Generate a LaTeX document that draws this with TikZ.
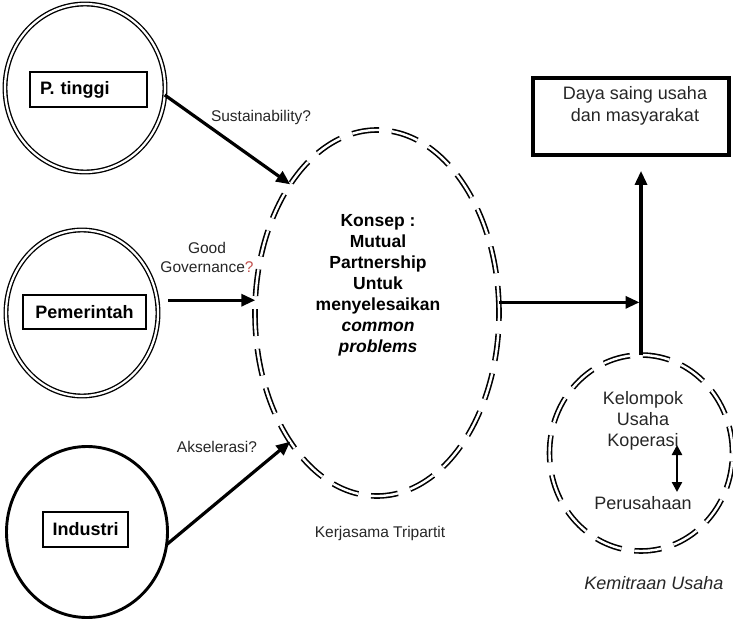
\documentclass[tikz,border=0pt]{standalone}
\usepackage{fontspec}
\setmainfont{Liberation Sans}
\usetikzlibrary{shapes.geometric,arrows.meta,calc}
\definecolor{qred}{HTML}{C0504D}
\definecolor{txt}{HTML}{262626}
\begin{document}
\begin{tikzpicture}[x=1pt,y=-1pt,
  dring/.style={ellipse, draw, double, double distance=2.2pt, line width=1.35pt, inner sep=0pt, outer sep=0pt},
  sring/.style={ellipse, draw, line width=2.9pt, inner sep=0pt, outer sep=0pt},
  dashring/.style={ellipse, draw, double, double distance=2.4pt, line width=1.6pt, dash pattern=on 27pt off 13pt, inner sep=0pt, outer sep=0pt},
  lbox/.style={draw, line width=1.1pt, font=\bfseries\fontsize{18}{21}\selectfont, minimum height=35pt, inner sep=0pt},
  goalbox/.style={draw, line width=3.8pt, minimum width=196pt, minimum height=77pt, inner sep=0pt},
  arr/.style={line width=3.2pt, -{Triangle[length=14pt,width=12pt]}},
  darr/.style={line width=2.4pt, {Triangle[length=10pt,width=10pt]}-{Triangle[length=10pt,width=10pt]}},
  lab/.style={font=\fontsize{15.5}{19}\selectfont, align=center, text=txt, inner sep=0pt},
  rlab/.style={font=\fontsize{18}{21}\selectfont, align=center, text=txt, inner sep=0pt},
  ctext/.style={font=\bfseries\fontsize{17.5}{21}\selectfont, align=center, inner sep=0pt}
]
\useasboundingbox (0,0) rectangle (733,620);

% left circles
\node[dring, minimum width=160pt, minimum height=168pt] (c1) at (85,88) {};
\node[dring, minimum width=152pt, minimum height=166pt] (c2) at (82,313) {};
\node[sring, minimum width=161pt, minimum height=171pt] (c3) at (87,532) {};

% labels in boxes
\node[lbox, text width=97pt, inner xsep=10pt, align=left] (b1) at (88.5,89.5) {P. tinggi};
\node[lbox, minimum width=123pt, minimum height=34pt] (b2) at (84.5,312) {Pemerintah};
\node[lbox, minimum width=85pt] (b3) at (85.5,529.5) {Industri};

% central dashed ellipse
\node[dashring, minimum width=244pt, minimum height=366pt] (ell) at (377,313) {};
\node[ctext] (konsep) at (378,285) {Konsep :\\Mutual\\Partnership\\Untuk\\menyelesaikan\\\textit{common}\\\textit{problems}};
\node[lab] (kerja) at (380,533) {Kerjasama Tripartit};

% right dashed ellipse
\node[dashring, minimum width=183pt, minimum height=196pt] (rell) at (641,453) {};
\node[rlab] (kel) at (643,421) {Kelompok\\Usaha\\Koperasi};
\node[rlab] (per) at (643,503) {Perusahaan};
\node[rlab, font=\itshape\fontsize{18}{21}\selectfont] (kemit) at (654,583) {Kemitraan Usaha};
\coordinate (da1) at (677,445);
\coordinate (da2) at (677,492);
\draw[darr] (da1) -- (da2);

% goal box
\node[goalbox] (goal) at (631,116.5) {};
\node[rlab, font=\fontsize{18}{22}\selectfont] (goaltext) at (635,106) {Daya saing usaha\\dan masyarakat};

% arrow labels
\node[lab] (l1) at (261,117) {Sustainability?};
\node[lab] (l2) at (207,257.5) {Good\\Governance{\color{qred}?}};
\node[lab] (l3) at (217,447) {Akselerasi?};

% connectors
\draw[arr] (c1.-5) -- (ell.124);
\draw[arr] ($(c2.east |- ell.174)+(10,0)$) -- (ell.174);
\draw[arr] (c3.-9.5) -- (ell.236.6);
\draw[arr, shorten >=1.5pt] (ell.5) -- (rell.north |- ell.5);
\draw[arr, shorten >=14pt] (rell.north) -- (rell.north |- goal.south);
\end{tikzpicture}
\end{document}
